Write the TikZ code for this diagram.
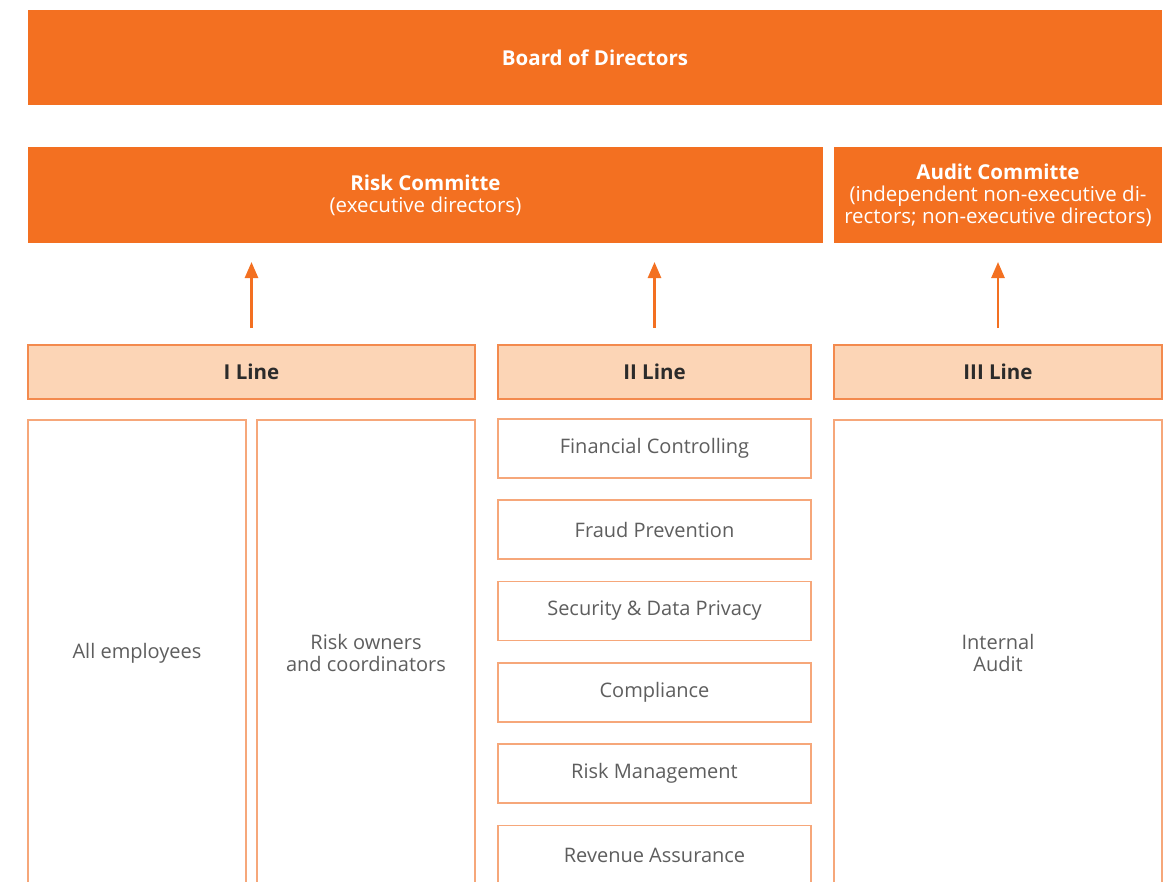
\documentclass[tikz,border=0pt]{standalone}
\usepackage{fontspec}
\setmainfont{Open Sans}
\usetikzlibrary{arrows.meta}

\definecolor{orangedark}{HTML}{F37021}
\definecolor{orangelight}{HTML}{FCD5B6}
\definecolor{orangeline}{HTML}{F38A4E}
\definecolor{orangethin}{HTML}{F6A77A}
\definecolor{textdark}{HTML}{2B2B2B}
\definecolor{textgray}{HTML}{5E5E5E}

\tikzset{
	headbox/.style={fill=orangedark, text=white, inner sep=0pt, outer sep=0pt, align=center,
		font=\fontsize{20.5}{22}\selectfont},
	linebox/.style={fill=orangelight, draw=orangeline, line width=1.4pt, text=textdark,
		inner sep=0pt, outer sep=0pt, font=\fontsize{20.5}{22}\selectfont\bfseries},
	unitbox/.style={fill=white, draw=orangethin, line width=1.4pt, text=textgray,
		inner sep=0pt, outer sep=0pt, align=center, font=\fontsize{20}{22}\selectfont},
	uparrow/.style={orangedark, line width=2.6pt, -{Triangle[length=16pt,width=13pt]},
		shorten <=17pt, shorten >=19pt}
}

\begin{document}
\begin{tikzpicture}[x=1pt,y=-1pt]
	
	\useasboundingbox (0,0) rectangle (1167,881);
	\clip (0,0) rectangle (1167,881);
	
	% Board and committees
	\node[headbox, minimum width=1134pt, minimum height=95pt] (board) at (595,57.5) {\bfseries Board of Directors};
	\node[headbox, minimum width=795pt, minimum height=96pt] (risk) at (425.5,195) {{\bfseries Risk Committe}\\(executive directors)};
	\node[headbox, minimum width=328pt, minimum height=96pt] (audit) at (998,195) {{\bfseries Audit Committe}\\(independent non-executive di-\\rectors; non-executive directors)};
	
	% Lines of defence
	\node[linebox, minimum width=447pt, minimum height=54pt] (iline) at (251.5,372) {I Line};
	\node[linebox, minimum width=313pt, minimum height=54pt] (iiline) at (654.5,372) {II Line};
	\node[linebox, minimum width=328pt, minimum height=54pt] (iiiline) at (998,372) {III Line};
	
	% Reporting
	\draw[uparrow] (iline.north) -- (iline.north |- risk.south);
	\draw[uparrow] (iiline.north) -- (iiline.north |- risk.south);
	\draw[uparrow] (iiiline.north) -- (iiiline.north |- audit.south);
	
	% I Line
	\node[unitbox, minimum width=218pt, minimum height=466pt] (employees) at (137,653) {All employees};
	\node[unitbox, minimum width=218pt, minimum height=466pt] (owners) at (366,653) {Risk owners\\and coordinators};
	
	% II Line
	\node[unitbox, minimum width=313pt, minimum height=59pt] (controlling) at (654.5,448.5) {Financial Controlling};
	\node[unitbox, minimum width=313pt, minimum height=59pt] (fraud) at (654.5,529.5) {Fraud Prevention};
	\node[unitbox, minimum width=313pt, minimum height=59pt] (privacy) at (654.5,611) {Security \& Data Privacy};
	\node[unitbox, minimum width=313pt, minimum height=59pt] (compliance) at (654.5,692.5) {Compliance};
	\node[unitbox, minimum width=313pt, minimum height=59pt] (riskmgmt) at (654.5,773.5) {Risk Management};
	\node[unitbox, minimum width=313pt, minimum height=59pt] (revenue) at (654.5,855) {Revenue Assurance};
	
	% III Line
	\node[unitbox, minimum width=328pt, minimum height=466pt] (internal) at (998,653) {Internal\\Audit};
	
\end{tikzpicture}
\end{document}
